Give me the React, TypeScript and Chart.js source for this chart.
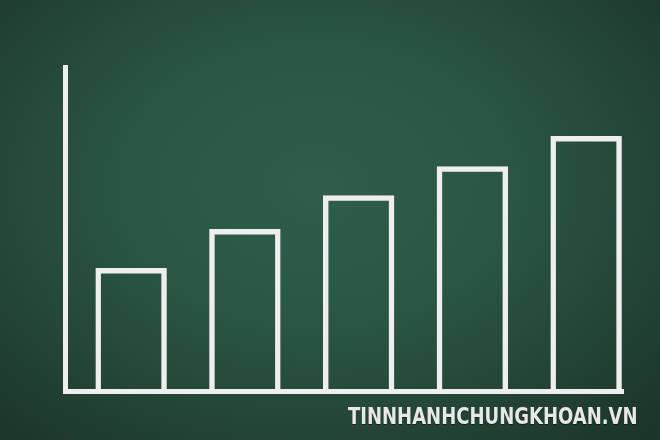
import React, { useEffect, useRef } from "react";
import { Chart, registerables } from "chart.js";

Chart.register(...registerables);

const categories = ["1", "2", "3", "4", "5"];
const values = [38, 50, 60.4, 69.4, 78.7];
const watermark = "TINNHANHCHUNGKHOAN.VN";

export default function App() {
  const canvasRef = useRef<HTMLCanvasElement | null>(null);

  useEffect(() => {
    document.body.style.margin = "0";
    const ctx = canvasRef.current!.getContext("2d")!;
    const chalk = "#eeeeee";
    const chart = new Chart(ctx, {
      type: "bar",
      data: {
        labels: categories,
        datasets: [
          {
            data: categories.map((_, i) => ({ x: i + 1, y: values[i] })),
            backgroundColor: "rgba(0,0,0,0)",
            borderColor: chalk,
            borderWidth: 5.5,
            barPercentage: 0.628,
            categoryPercentage: 1,
          },
        ],
      },
      options: {
        animation: false,
        responsive: false,
        maintainAspectRatio: false,
        layout: { padding: { left: 65.5, right: 37, top: 67, bottom: 49 } },
        plugins: { legend: { display: false }, tooltip: { enabled: false }, title: { display: false } },
        scales: {
          x: {
            type: "linear",
            offset: false,
            min: 0.423,
            max: 5.324,
            ticks: { display: false, stepSize: 1, includeBounds: false },
            grid: { display: false, drawTicks: false, offset: false },
            border: { display: true, color: chalk, width: 5 },
          },
          y: {
            min: 0,
            max: 100,
            ticks: { display: false },
            grid: { display: false, drawTicks: false },
            border: { display: true, color: chalk, width: 5 },
          },
        },
      },
    });
    return () => chart.destroy();
  }, []);

  return (
    <div
      style={{
        position: "fixed",
        left: 0,
        top: 0,
        width: 660,
        height: 440,
        overflow: "hidden",
        background:
          "radial-gradient(ellipse 72% 78% at 48% 42%, #2f5e4b 0%, #2b5644 40%, #234536 72%, #1b3529 100%)",
      }}
    >
      <canvas ref={canvasRef} width={660} height={440} style={{ position: "absolute", left: 0, top: 0 }} />
      <div
        style={{
          position: "absolute",
          left: 348,
          top: 401,
          fontFamily: "'DejaVu Sans Condensed', 'DejaVu Sans', sans-serif",
          fontWeight: "bold",
          fontSize: 23,
          lineHeight: "30px",
          color: "#e8e8e8",
          whiteSpace: "nowrap",
          transform: "scaleX(0.87)",
          transformOrigin: "left center",
          textShadow: "0 1px 1px rgba(0,0,0,0.5)",
        }}
      >
        {watermark}
      </div>
    </div>
  );
}
